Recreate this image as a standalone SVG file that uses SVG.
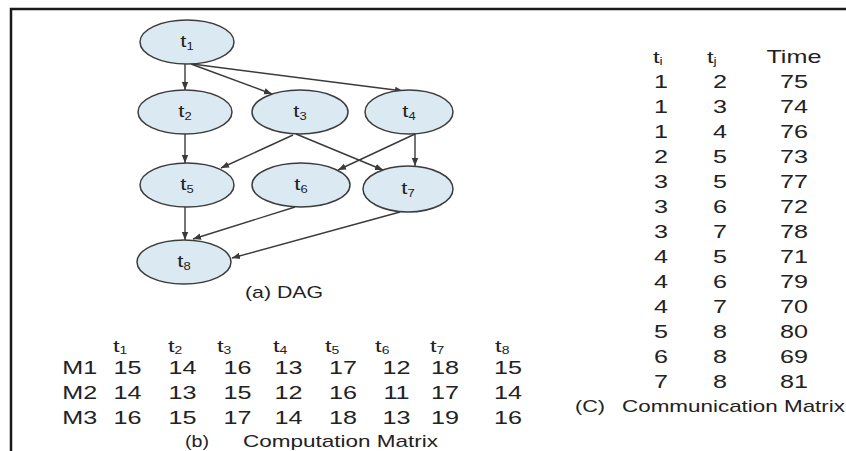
<svg xmlns="http://www.w3.org/2000/svg" width="846" height="451" viewBox="0 0 846 451">
  <style>
    text { font-family: "Liberation Sans", Arial, sans-serif; fill: #222; }
    .node ellipse { fill: #dbe9f2; stroke: #3c3c3c; stroke-width: 1.5; }
    .lbl { font-size: 17px; text-anchor: middle; }
    .sub { font-size: 10px; }
    .edges line { stroke: #3a3a3a; stroke-width: 1.4; marker-end: url(#arrow); }
    .cell { font-size: 18px; text-anchor: middle; }
    .hdr { font-size: 17px; }
    .hsub { font-size: 10px; }
    .cap { font-size: 17px; }
    .frame { stroke: #1a1a1a; stroke-width: 2.5; fill: none; }
  </style>
  <defs>
    <marker id="arrow" viewBox="0 0 10 10" refX="10" refY="5" markerWidth="8" markerHeight="8" markerUnits="userSpaceOnUse" orient="auto">
      <path d="M0,1 L10,5 L0,9 z" fill="#3a3a3a"/>
    </marker>
  </defs>

  <rect width="846" height="451" fill="#ffffff"/>

  <!-- outer frame -->
  <path class="frame" d="M11,451 V9 H846"/>

  <!-- connectors -->
  <g class="edges" id="edges">
    <line x1="185" y1="64" x2="185" y2="90"/>
    <line x1="191" y1="64" x2="272" y2="94"/>
    <line x1="192" y1="64" x2="403" y2="91"/>
    <line x1="185" y1="134" x2="185" y2="163"/>
    <line x1="293" y1="135" x2="221" y2="168"/>
    <line x1="296" y1="134" x2="383" y2="170"/>
    <line x1="415" y1="134" x2="338" y2="170"/>
    <line x1="415" y1="134" x2="415" y2="166"/>
    <line x1="185" y1="207" x2="185" y2="240"/>
    <line x1="295" y1="207" x2="193" y2="239"/>
    <line x1="400" y1="212" x2="232" y2="258"/>
  </g>

  <!-- task nodes -->
  <g class="node" id="t1">
    <ellipse cx="187" cy="42" rx="47" ry="22"/>
    <text class="lbl" transform="translate(187,47) scale(1.3,1)">t<tspan class="sub" dy="3">1</tspan></text>
  </g>
  <g class="node" id="t2">
    <ellipse cx="185" cy="112" rx="47" ry="22"/>
    <text class="lbl" transform="translate(185,117) scale(1.3,1)">t<tspan class="sub" dy="3">2</tspan></text>
  </g>
  <g class="node" id="t3">
    <ellipse cx="300" cy="112" rx="48" ry="22"/>
    <text class="lbl" transform="translate(300,117) scale(1.3,1)">t<tspan class="sub" dy="3">3</tspan></text>
  </g>
  <g class="node" id="t4">
    <ellipse cx="409" cy="112" rx="44" ry="22"/>
    <text class="lbl" transform="translate(409,117) scale(1.3,1)">t<tspan class="sub" dy="3">4</tspan></text>
  </g>
  <g class="node" id="t5">
    <ellipse cx="187" cy="185" rx="47" ry="22"/>
    <text class="lbl" transform="translate(187,190) scale(1.3,1)">t<tspan class="sub" dy="3">5</tspan></text>
  </g>
  <g class="node" id="t6">
    <ellipse cx="301" cy="185" rx="49" ry="22"/>
    <text class="lbl" transform="translate(301,190) scale(1.3,1)">t<tspan class="sub" dy="3">6</tspan></text>
  </g>
  <g class="node" id="t7">
    <ellipse cx="408" cy="189" rx="45" ry="23"/>
    <text class="lbl" transform="translate(408,194) scale(1.3,1)">t<tspan class="sub" dy="3">7</tspan></text>
  </g>
  <g class="node" id="t8">
    <ellipse cx="184" cy="262" rx="47" ry="22"/>
    <text class="lbl" transform="translate(184,267) scale(1.3,1)">t<tspan class="sub" dy="3">8</tspan></text>
  </g>

  <text class="cap" x="245" y="298" textLength="78" lengthAdjust="spacingAndGlyphs">(a) DAG</text>

  <!-- computation matrix (widened glyphs) -->
  <g id="computation" transform="scale(1.4,1)">
    <g class="hdr">
      <text x="80.7" y="352">t<tspan class="hsub" dy="2">1</tspan></text>
      <text x="120" y="352">t<tspan class="hsub" dy="2">2</tspan></text>
      <text x="155" y="352">t<tspan class="hsub" dy="2">3</tspan></text>
      <text x="195" y="352">t<tspan class="hsub" dy="2">4</tspan></text>
      <text x="232.1" y="352">t<tspan class="hsub" dy="2">5</tspan></text>
      <text x="267.9" y="352">t<tspan class="hsub" dy="2">6</tspan></text>
      <text x="307.1" y="352">t<tspan class="hsub" dy="2">7</tspan></text>
      <text x="353.6" y="352">t<tspan class="hsub" dy="2">8</tspan></text>
    </g>
    <g class="cell">
      <text x="57" y="374">M1</text>
      <text x="91.1" y="374">15</text><text x="130.4" y="374">14</text><text x="169.6" y="374">16</text><text x="206.1" y="374">13</text>
      <text x="245" y="374">17</text><text x="283.2" y="374">12</text><text x="317.9" y="374">18</text><text x="362.9" y="374">15</text>
      <text x="57" y="399">M2</text>
      <text x="91.1" y="399">14</text><text x="130.4" y="399">13</text><text x="169.6" y="399">15</text><text x="206.1" y="399">12</text>
      <text x="245" y="399">16</text><text x="283.2" y="399">11</text><text x="317.9" y="399">17</text><text x="362.9" y="399">14</text>
      <text x="57" y="424">M3</text>
      <text x="91.1" y="424">16</text><text x="130.4" y="424">15</text><text x="169.6" y="424">17</text><text x="206.1" y="424">14</text>
      <text x="245" y="424">18</text><text x="283.2" y="424">13</text><text x="317.9" y="424">19</text><text x="362.9" y="424">16</text>
    </g>
  </g>
  <text class="cap" x="185" y="447" textLength="24" lengthAdjust="spacingAndGlyphs">(b)</text>
  <text class="cap" x="243" y="447" textLength="195" lengthAdjust="spacingAndGlyphs">Computation Matrix</text>

  <!-- communication matrix (widened glyphs) -->
  <g id="communication" transform="scale(1.4,1)">
    <g class="hdr">
      <text x="466.4" y="63">t<tspan class="hsub" dy="2">i</tspan></text>
      <text x="505" y="63">t<tspan class="hsub" dy="2">j</tspan></text>
      <text class="cell" x="567.1" y="63">Time</text>
    </g>
    <g class="cell">
      <text x="472.1" y="88">1</text><text x="514.3" y="88">2</text><text x="567.1" y="88">75</text>
      <text x="472.1" y="113">1</text><text x="514.3" y="113">3</text><text x="567.1" y="113">74</text>
      <text x="472.1" y="138">1</text><text x="514.3" y="138">4</text><text x="567.1" y="138">76</text>
      <text x="472.1" y="163">2</text><text x="514.3" y="163">5</text><text x="567.1" y="163">73</text>
      <text x="472.1" y="188">3</text><text x="514.3" y="188">5</text><text x="567.1" y="188">77</text>
      <text x="472.1" y="213">3</text><text x="514.3" y="213">6</text><text x="567.1" y="213">72</text>
      <text x="472.1" y="238">3</text><text x="514.3" y="238">7</text><text x="567.1" y="238">78</text>
      <text x="472.1" y="263">4</text><text x="514.3" y="263">5</text><text x="567.1" y="263">71</text>
      <text x="472.1" y="288">4</text><text x="514.3" y="288">6</text><text x="567.1" y="288">79</text>
      <text x="472.1" y="313">4</text><text x="514.3" y="313">7</text><text x="567.1" y="313">70</text>
      <text x="472.1" y="338">5</text><text x="514.3" y="338">8</text><text x="567.1" y="338">80</text>
      <text x="472.1" y="363">6</text><text x="514.3" y="363">8</text><text x="567.1" y="363">69</text>
      <text x="472.1" y="388">7</text><text x="514.3" y="388">8</text><text x="567.1" y="388">81</text>
    </g>
  </g>
  <text class="cap" x="575" y="412" textLength="30" lengthAdjust="spacingAndGlyphs">(C)</text>
  <text class="cap" x="622" y="412" textLength="223" lengthAdjust="spacingAndGlyphs">Communication Matrix</text>
</svg>
